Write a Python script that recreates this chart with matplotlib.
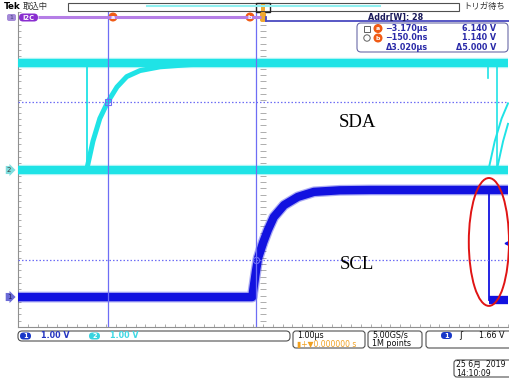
import matplotlib
matplotlib.use('Agg')
import matplotlib.pyplot as plt
from matplotlib.patches import Ellipse, FancyBboxPatch, Rectangle, Circle
from matplotlib.collections import LineCollection
import numpy as np

plt.rcParams['font.family'] = ['DejaVu Sans', 'Noto Sans CJK JP']

# ---------------- data (time in µs, voltage in V) ----------------
ch1_offset_div = -4.0      # SCL ground position (divisions)
ch2_offset_div = 0.0       # SDA ground position (divisions)

sda_high_v = 3.38
sda_low_v = 0.0
sda_fall_t = -3.59
sda_rise_t = [-3.59, -3.47, -3.33, -3.17, -2.98, -2.78, -2.51, -2.10, -1.49, -0.80]
sda_rise_v = [0.05, 0.90, 1.62, 2.14, 2.62, 2.95, 3.14, 3.26, 3.33, 3.37]
sda_dip_t = 4.59
sda_dip_v = 2.90
sda_fall2_t = 4.78
sda_rise2_t = [4.61, 4.73, 4.87, 5.00]
sda_rise2_v = [0.05, 0.90, 1.62, 2.10]
sda_rise3_t = [4.78, 4.90, 5.00]
sda_rise3_v = [0.05, 0.90, 1.45]

scl_low_v = -0.05
scl_high_v = 3.35
scl_rise_t = [-0.22, -0.14, -0.10, 0.00, 0.10, 0.22, 0.43, 0.71, 1.04, 1.57, 2.20]
scl_rise_v = [-0.05, 0.81, 1.19, 1.67, 2.08, 2.49, 2.87, 3.13, 3.29, 3.34, 3.35]
scl_fall_t = 4.61
scl_low2_v = -0.15

cursor_a_t, cursor_a_v = -3.170, 6.140
cursor_b_t, cursor_b_v = -0.150, 1.140
trigger_level_v = 1.66

label_sda = "SDA"
label_scl = "SCL"
label_sda_pos = (1.92, 1.48)
label_scl_pos = (1.92, -3.03)

readout_rows = [("−3.170µs", "6.140 V"), ("−150.0ns", "1.140 V"), ("Δ3.020µs", "Δ5.000 V")]

SDA_C = '#1fe3e6'
SCL_C = '#1212e0'
CUR_C = '#6e6ef5'
GRID_C = '#a0a0a0'

fig = plt.figure(figsize=(5.09, 3.78), dpi=100)
fig.patch.set_facecolor('white')

# graticule axes: x 18..508 px, y 12..327 px
ax = fig.add_axes([18/509, 51/378, 490/509, 315/378])
ax.set_xlim(-5, 5)
ax.set_ylim(-5, 5)
ax.set_facecolor('white')
for s in ['top', 'right']:
    ax.spines[s].set_visible(False)
for s in ['left', 'bottom']:
    ax.spines[s].set_color('#909090')
    ax.spines[s].set_linewidth(0.8)
ax.set_xticks([])
ax.set_yticks([])
ax.set_xticks(np.arange(-5, 5.01, 0.2), minor=True)
ax.set_yticks(np.arange(-5, 5.01, 0.2), minor=True)
ax.tick_params(which='minor', direction='in', length=2.2, width=0.6, color='#a0a0a0',
               labelbottom=False, labelleft=False)

# dotted grid
gx, gy = [], []
for k in range(-4, 5):
    for f in np.arange(-5, 5.01, 0.2):
        gx.append(k); gy.append(f)
        gx.append(f); gy.append(k)
ax.scatter(gx, gy, s=0.35, marker='s', color=GRID_C, linewidths=0, zorder=1)

# center ticks
segs = []
for f in np.arange(-5, 5.01, 0.2):
    segs.append([(-0.06, f), (0.06, f)])
    segs.append([(f, -0.09), (f, 0.09)])
ax.add_collection(LineCollection(segs, colors='#a0a0a0', linewidths=0.6, zorder=1))

def d1(v):
    return np.asarray(v) + ch1_offset_div

def d2(v):
    return np.asarray(v) + ch2_offset_div

# SDA (ch2)
band = dict(solid_capstyle='butt')
for lw, al in ((7.5, 0.35), (5.8, 1.0)):
    ax.plot([-5, 5], d2([sda_high_v]*2), color=SDA_C, lw=lw, alpha=al, **band, zorder=3)
    ax.plot([-5, 5], d2([sda_low_v]*2), color=SDA_C, lw=lw, alpha=al, **band, zorder=3)
ax.plot([sda_fall_t]*2, d2([sda_high_v, sda_low_v]), color=SDA_C, lw=1.3, zorder=3)
ax.plot(sda_rise_t, d2(sda_rise_v), color=SDA_C, lw=3.6, zorder=3, solid_capstyle='round')
ax.plot([sda_dip_t]*2, d2([sda_high_v, sda_dip_v]), color=SDA_C, lw=1.2, zorder=3)
ax.plot([sda_fall2_t]*2, d2([sda_high_v, sda_low_v]), color=SDA_C, lw=1.2, zorder=3)
ax.plot(sda_rise2_t, d2(sda_rise2_v), color=SDA_C, lw=1.4, zorder=3, clip_on=False)
ax.plot(sda_rise3_t, d2(sda_rise3_v), color=SDA_C, lw=1.4, zorder=3, clip_on=False)

# SCL (ch1): low -> rise -> high as one trace
scl_t = [-5] + scl_rise_t + [5]
scl_v = [scl_low_v] + scl_rise_v + [scl_high_v]
ax.plot(scl_t, d1(scl_v), color=SCL_C, lw=7.8, alpha=0.35, solid_joinstyle='round',
        solid_capstyle='butt', zorder=4)
ax.plot(scl_t, d1(scl_v), color=SCL_C, lw=6.0, solid_joinstyle='round',
        solid_capstyle='butt', zorder=4)
ax.plot([scl_fall_t]*2, d1([scl_high_v, scl_low2_v]), color=SCL_C, lw=1.3, zorder=4)
ax.plot([scl_fall_t, 5], d1([scl_low2_v]*2), color=SCL_C, lw=6.0, **band, zorder=4)

# cursors
for t in (cursor_a_t, cursor_b_t):
    ax.axvline(t, color=CUR_C, lw=0.9, zorder=5)
for v in (cursor_a_v, cursor_b_v):
    ax.axhline(d1(v), color=CUR_C, lw=0.9, ls=(0, (1.2, 1.6)), zorder=5)
ax.plot([cursor_a_t], [d1(cursor_a_v)], marker='s', ms=4.5, mfc='none', mec=CUR_C, mew=0.8, zorder=6)
ax.plot([cursor_b_t], [d1(cursor_b_v)], marker='o', ms=4.5, mfc='none', mec=CUR_C, mew=0.8, zorder=6)

# trigger level marker
ax.plot([4.97], [d1(trigger_level_v)], marker='<', ms=3.5, color=SCL_C, clip_on=False, zorder=6)

# red ellipse
ax.add_patch(Ellipse((4.61, -2.30), 0.82, 4.06, fill=False, edgecolor='#e01414', lw=1.4,
                     clip_on=False, zorder=7))

# labels
ax.text(*label_sda_pos, label_sda, fontsize=13.5, family='Liberation Serif', ha='center', va='center', zorder=8)
ax.text(*label_scl_pos, label_scl, fontsize=13.5, family='Liberation Serif', ha='center', va='center', zorder=8)

# ---------------- overlay chrome (pixel coordinates) ----------------
ov = fig.add_axes([0, 0, 1, 1], zorder=10)
ov.set_xlim(0, 509)
ov.set_ylim(378, 0)
ov.axis('off')

def rbox(x, y, w, h, ec='#505050', fc='none', r=3, lw=0.8):
    ov.add_patch(FancyBboxPatch((x, y), w, h, boxstyle=f'round,pad=0,rounding_size={r}',
                                ec=ec, fc=fc, lw=lw, clip_on=False))

fs = 5.8
tc = '#2a2aa8'
# top line
ov.text(4, 6.5, 'Tek', fontsize=6.3, fontweight='bold', va='center', ha='left')
ov.text(23, 6.5, '取込中', fontsize=6.0, va='center', ha='left', color='#303030')
ov.add_patch(Rectangle((68, 3), 391, 8, fill=False, ec='#505050', lw=0.8))
ov.plot([147, 380], [5.5, 5.5], color='#8ff0f0', lw=1.5)
ov.add_patch(Rectangle((256, 2.5), 14, 9, fill=False, ec='#202020', lw=1.0))
ov.add_patch(Rectangle((261, 3.5), 4, 7, fc='#f0a830', ec='none'))
ov.text(463, 6.5, 'トリガ待ち', fontsize=6.0, va='center', ha='left', color='#303030')

# bus row
ov.plot([38, 261], [17, 17], color='#b57ee6', lw=2.2, solid_capstyle='butt')
ov.plot([266, 509], [21, 21], color='#4a4ac0', lw=1.3)
ov.plot([266, 266], [17, 21], color='#4a4ac0', lw=1.3)
rbox(7, 14, 9, 7, ec='none', fc='#a48ad8', r=2)
ov.text(11.5, 17.5, '1', fontsize=4.5, ha='center', va='center', color='#404080')
rbox(19, 13.5, 19, 8, ec='none', fc='#8a2ed0', r=4)
ov.text(28.5, 17.5, 'I2C', fontsize=4.8, ha='center', va='center', color='white', fontweight='bold')
for xm, lt in ((113, 'a'), (250, 'b')):
    ov.add_patch(Circle((xm, 17), 3.8, color='#f05a14'))
    ov.text(xm, 17.3, lt, fontsize=4.5, ha='center', va='center', color='white', fontweight='bold')
rbox(260, 12, 6, 10, ec='none', fc='#f0a830', r=2)
ov.text(368, 17, 'Addr[W]: 28', fontsize=fs, fontweight='bold', va='center', ha='left', color='#1a1a5a')

# cursor readout
rbox(357, 23, 151, 29, ec='#6a6aa8', fc='white', r=4)
ys = [28.5, 38, 47.5]
ov.add_patch(Rectangle((364, 25.5), 6, 6, fill=False, ec='#606060', lw=0.7))
ov.add_patch(Circle((367, 38), 3.2, fill=False, ec='#606060', lw=0.7))
for yy, lt in ((ys[0], 'a'), (ys[1], 'b')):
    ov.add_patch(Circle((378, yy), 3.8, color='#f05a14'))
    ov.text(378, yy + 0.3, lt, fontsize=4.5, ha='center', va='center', color='white', fontweight='bold')
for yy, (a, b) in zip(ys, readout_rows):
    ov.text(428, yy, a, fontsize=fs, fontweight='bold', va='center', ha='right', color=tc)
    ov.text(496, yy, b, fontsize=fs, fontweight='bold', va='center', ha='right', color=tc)

# channel ground tags
ov.text(9, 170, '2', fontsize=5, ha='center', va='center', color='#404040',
        bbox=dict(boxstyle='rarrow,pad=0.15', fc='#7fdede', ec='none'))
ov.text(9, 297, '1', fontsize=5, ha='center', va='center', color='#202060',
        bbox=dict(boxstyle='rarrow,pad=0.15', fc='#6a6ad6', ec='none'))

# bottom status
rbox(18, 331, 272, 10, r=4)
rbox(20, 332.5, 11, 7, ec='none', fc='#1838c8', r=3.5)
ov.text(25.5, 336.2, '1', fontsize=4.8, ha='center', va='center', color='white', fontweight='bold')
ov.text(41, 336, '1.00 V', fontsize=fs, fontweight='bold', va='center', ha='left', color='#2434c0')
rbox(89, 332.5, 11, 7, ec='none', fc='#38d4e0', r=3.5)
ov.text(94.5, 336.2, '2', fontsize=4.8, ha='center', va='center', color='white', fontweight='bold')
ov.text(110, 336, '1.00 V', fontsize=fs, fontweight='bold', va='center', ha='left', color='#40d8e4')

rbox(293, 331, 72, 17, r=3)
ov.text(297, 335.5, '1.00µs', fontsize=fs, va='center', ha='left', color='#101010')
ov.text(297, 344, '▮+▼0.000000 s', fontsize=5.5, va='center', ha='left', color='#f0a020')
rbox(368, 331, 54, 17, r=3)
ov.text(372, 335.5, '5.00GS/s', fontsize=fs, va='center', ha='left', color='#101010')
ov.text(372, 344, '1M points', fontsize=fs, va='center', ha='left', color='#101010')
rbox(426, 331, 95, 17, r=3)
rbox(441, 332, 11, 7, ec='none', fc='#1838c8', r=3.5)
ov.text(446.5, 335.7, '1', fontsize=4.8, ha='center', va='center', color='white', fontweight='bold')
ov.text(461, 335.5, 'ʃ', fontsize=6.5, ha='center', va='center', color='#101010')
ov.text(505, 335.5, '1.66 V', fontsize=fs, va='center', ha='right', color='#101010')

rbox(454, 360, 60, 17, r=3)
ov.text(456, 364, '25 6月  2019', fontsize=5.6, va='center', ha='left', color='#101010')
ov.text(456, 373, '14:10:09', fontsize=5.6, va='center', ha='left', color='#101010')

fig.savefig('out.png', dpi=100)
